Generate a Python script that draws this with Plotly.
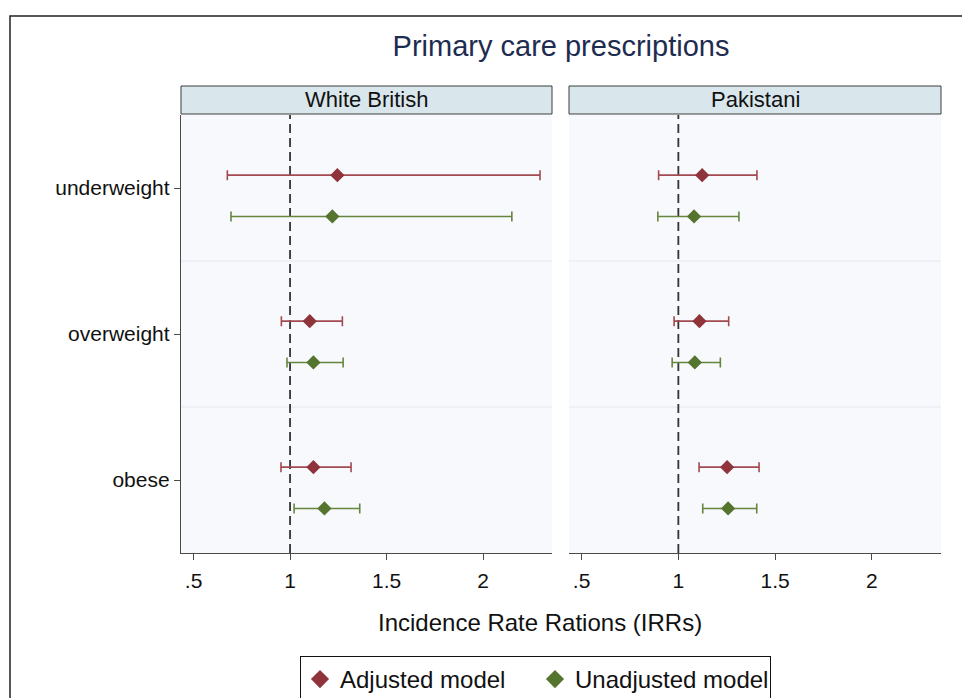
import plotly.graph_objects as go

# ---------------- data ----------------
categories = ["underweight", "overweight", "obese"]
panels = ["White British", "Pakistani"]
series_names = ["Adjusted model", "Unadjusted model"]

wb_adj_est = [1.245, 1.102, 1.121]
wb_adj_lo = [0.675, 0.955, 0.953]
wb_adj_hi = [2.295, 1.271, 1.316]

wb_unadj_est = [1.219, 1.121, 1.178]
wb_unadj_lo = [0.694, 0.984, 1.021]
wb_unadj_hi = [2.149, 1.275, 1.361]

pk_adj_est = [1.123, 1.109, 1.252]
pk_adj_lo = [0.898, 0.978, 1.107]
pk_adj_hi = [1.406, 1.260, 1.417]

pk_unadj_est = [1.081, 1.085, 1.257]
pk_unadj_lo = [0.894, 0.968, 1.126]
pk_unadj_hi = [1.313, 1.217, 1.405]

x_tickvals = [0.5, 1, 1.5, 2]
x_ticktext = [".5", "1", "1.5", "2"]

# ---------------- style ----------------
W, H = 962, 698
FONT = "Liberation Sans, Arial, sans-serif"
ADJ_COLOR = "#8f343b"
ADJ_BAR = "#a24a50"
UNADJ_COLOR = "#55742e"
UNADJ_BAR = "#66853d"
ADJ_OFF = 0.088
UNADJ_OFF = -0.195


def px(x):
    return x / W


def py(y):
    return 1 - y / H


n = len(categories)
cat_pos = [n - i for i in range(n)]  # top to bottom

fig = go.Figure()

panel_data = [
    ((wb_adj_est, wb_adj_lo, wb_adj_hi), (wb_unadj_est, wb_unadj_lo, wb_unadj_hi)),
    ((pk_adj_est, pk_adj_lo, pk_adj_hi), (pk_unadj_est, pk_unadj_lo, pk_unadj_hi)),
]

for p, (adj, unadj) in enumerate(panel_data):
    xa = "x" if p == 0 else "x2"
    ya = "y" if p == 0 else "y2"
    for s, (est, lo, hi) in enumerate((adj, unadj)):
        color = ADJ_COLOR if s == 0 else UNADJ_COLOR
        bar = ADJ_BAR if s == 0 else UNADJ_BAR
        off = ADJ_OFF if s == 0 else UNADJ_OFF
        fig.add_trace(go.Scatter(
            x=est,
            y=[c + off for c in cat_pos],
            mode="markers",
            name=series_names[s],
            legendgroup=series_names[s],
            showlegend=False,
            marker=dict(symbol="diamond", size=11, color=color),
            error_x=dict(
                type="data", symmetric=False,
                array=[h - e for h, e in zip(hi, est)],
                arrayminus=[e - l for e, l in zip(est, lo)],
                color=bar, thickness=1.6, width=5,
            ),
            xaxis=xa, yaxis=ya,
        ))

# legend entries (legend-only, larger key symbols as in the original)
for s, name in enumerate(series_names):
    fig.add_trace(go.Scatter(
        x=[None], y=[None], mode="markers", name=name, legendgroup=name, showlegend=True,
        marker=dict(symbol="diamond", size=14, color=ADJ_COLOR if s == 0 else UNADJ_COLOR),
        xaxis="x", yaxis="y",
    ))

XR = [0.435, 2.357]
dom_l = [px(181), px(552)]
dom_r = [px(569), px(941)]
ydom = [py(553), py(115)]

axis_common = dict(
    range=XR, tickvals=x_tickvals, ticktext=x_ticktext,
    showgrid=False, zeroline=False, showline=True, linecolor="#4a4a4a", linewidth=1.3,
    ticks="outside", ticklen=6, tickcolor="#4a4a4a", tickwidth=1.2,
    tickfont=dict(family=FONT, size=21, color="#111111"), ticklabelstandoff=3,
)

fig.update_layout(
    width=W, height=H,
    margin=dict(l=0, r=0, t=0, b=0, autoexpand=False),
    paper_bgcolor="white",
    plot_bgcolor="#f8f9fc",
    font=dict(family=FONT, color="#111111"),
    title=dict(text="Primary care prescriptions", x=px(561), xanchor="center",
               y=py(46), yanchor="middle", xref="paper", yref="container",
               font=dict(family=FONT, size=29, color="#1e2c50")),
    xaxis=dict(domain=dom_l, anchor="y", **axis_common),
    xaxis2=dict(domain=dom_r, anchor="y2", **axis_common),
    yaxis=dict(domain=ydom, range=[0.5, n + 0.5], tickvals=cat_pos, ticktext=categories,
               showgrid=False, zeroline=False, showline=True, linecolor="#4a4a4a", linewidth=1.3,
               ticks="outside", ticklen=6, tickcolor="#4a4a4a", tickwidth=1.2,
               tickfont=dict(family=FONT, size=21, color="#111111"), anchor="x"),
    yaxis2=dict(domain=ydom, range=[0.5, n + 0.5], showticklabels=False, showgrid=False,
                zeroline=False, showline=False, anchor="x2"),
    legend=dict(orientation="h", x=px(300), xanchor="left", y=py(656), yanchor="top",
                bordercolor="#111111", borderwidth=1, bgcolor="white",
                font=dict(family=FONT, size=24, color="#111111"),
                itemwidth=30, tracegroupgap=0, entrywidth=190, entrywidthmode="pixels"),
    showlegend=True,
)

shapes = []
# separators between category bands
for p in range(2):
    xr = "x domain" if p == 0 else "x2 domain"
    yr = "y" if p == 0 else "y2"
    for k in range(1, n):
        shapes.append(dict(type="line", xref=xr, yref=yr, x0=0, x1=1, y0=k + 0.5, y1=k + 0.5,
                           line=dict(color="#e3e7ed", width=1.2), layer="below"))
    # reference line at IRR = 1
    xr2 = "x" if p == 0 else "x2"
    yr2 = "y domain" if p == 0 else "y2 domain"
    shapes.append(dict(type="line", xref=xr2, yref=yr2, x0=1, x1=1, y0=0, y1=1,
                       line=dict(color="#333333", width=1.8, dash="9px,5px"), layer="below"))

# panel header strips
for dom in (dom_l, dom_r):
    shapes.append(dict(type="rect", xref="paper", yref="paper", x0=dom[0], x1=dom[1],
                       y0=py(114), y1=py(86), fillcolor="#d9e6ec",
                       line=dict(color="#3c3c3c", width=1)))

# outer frame
shapes.append(dict(type="rect", xref="paper", yref="paper", x0=px(10), x1=1.05, y0=-0.05, y1=py(16),
                   line=dict(color="#222222", width=1.5), fillcolor="rgba(0,0,0,0)"))

fig.update_layout(shapes=shapes)

annotations = []
for dom, name in zip((dom_l, dom_r), panels):
    annotations.append(dict(text=name, xref="paper", yref="paper", x=(dom[0] + dom[1]) / 2,
                            y=py(100), xanchor="center", yanchor="middle", showarrow=False,
                            font=dict(family=FONT, size=22, color="#111111")))
annotations.append(dict(text="Incidence Rate Rations (IRRs)", xref="paper", yref="paper",
                        x=px(540), y=py(622), xanchor="center", yanchor="middle", showarrow=False,
                        font=dict(family=FONT, size=24, color="#111111")))
fig.update_layout(annotations=annotations)

fig.write_html("out.html")
